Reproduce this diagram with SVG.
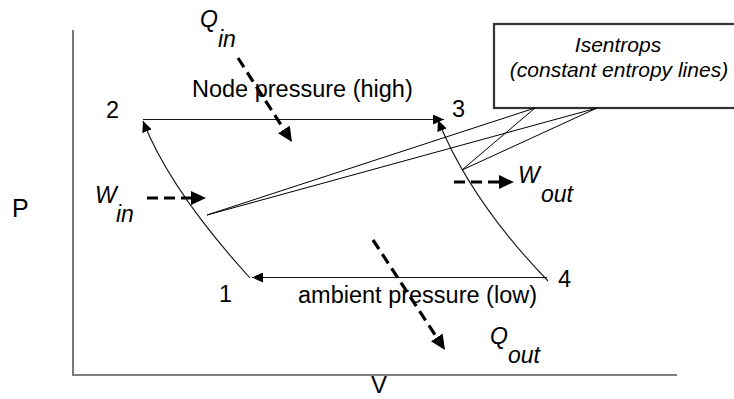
<svg xmlns="http://www.w3.org/2000/svg" width="734" height="399" viewBox="0 0 734 399">
<style>
text{font-family:"Liberation Sans",Arial,sans-serif;fill:#000}
.lbl{font-size:23.5px}
.ax{font-size:25px}
.it{font-style:italic;font-size:23px}
.note{font-style:italic;font-size:21px}
.thin{fill:none;stroke:#111;stroke-width:1.1}
.dash{fill:none;stroke:#000;stroke-width:3.2;stroke-dasharray:11 6}
.axis{fill:none;stroke:#555;stroke-width:1.6}
.ptr{fill:none;stroke:#000;stroke-width:1}
</style>
<defs>
<marker id="thinHead" viewBox="0 0 11 10" refX="11" refY="5" markerWidth="11" markerHeight="10" markerUnits="userSpaceOnUse" orient="auto">
<path d="M0,0 L11,5 L0,10 z" fill="#000"/>
</marker>
<marker id="boldHead" viewBox="0 0 15 14" refX="0" refY="7" markerWidth="15" markerHeight="14" markerUnits="userSpaceOnUse" orient="auto">
<path d="M0,0 L15,7 L0,14 z" fill="#000"/>
</marker>
</defs>

<g id="axes">
<line class="axis" x1="73" y1="30" x2="73" y2="374"/>
<line class="axis" x1="72" y1="375" x2="677" y2="375" stroke-width="2" stroke="#777"/>
<text class="ax" x="12" y="217">P</text>
<text x="371" y="393" font-size="24">V</text>
</g>

<g id="callout">
<rect x="494" y="24" width="260" height="84" fill="#fff" stroke="#333" stroke-width="2.2"/>
<text class="note" x="618" y="52" text-anchor="middle">Isentrops</text>
<text class="note" x="619" y="77" text-anchor="middle">(constant entropy lines)</text>
</g>

<g id="node-2"><text class="lbl" x="106" y="118">2</text></g>
<g id="node-3"><text class="lbl" x="452" y="117">3</text></g>
<g id="node-1"><text class="lbl" x="219" y="302">1</text></g>
<g id="node-4"><text class="lbl" x="558" y="287">4</text></g>

<g id="label-high"><text class="lbl" x="192" y="97">Node pressure (high)</text></g>
<g id="label-low"><text class="lbl" x="298" y="303">ambient pressure (low)</text></g>

<g id="label-qin"><text class="it" x="200" y="27">Q</text><text class="it" x="218" y="47">in</text></g>
<g id="label-win"><text class="it" x="95" y="203">W</text><text class="it" x="116" y="222">in</text></g>
<g id="label-wout"><text class="it" x="518" y="183">W</text><text class="it" x="541" y="202">out</text></g>
<g id="label-qout"><text class="it" x="490" y="344">Q</text><text class="it" x="508" y="363">out</text></g>

<g id="connectors">
<line class="thin" x1="143" y1="119.5" x2="444" y2="119.5" marker-end="url(#thinHead)"/>
<line class="thin" x1="547" y1="277.5" x2="252" y2="277.5" marker-end="url(#thinHead)"/>
<path class="thin" d="M250,278 Q170,190 143,121" marker-end="url(#thinHead)"/>
<path class="thin" d="M548,281 Q470,200 438,120" marker-end="url(#thinHead)"/>
<line class="ptr" x1="535" y1="108" x2="207" y2="215"/>
<line class="ptr" x1="597" y1="108" x2="207" y2="215"/>
<line class="ptr" x1="535" y1="108" x2="462" y2="170"/>
<line class="ptr" x1="597" y1="108" x2="462" y2="170"/>
<line class="dash" x1="238" y1="58" x2="283.9" y2="129.4" marker-end="url(#boldHead)"/>
<line class="dash" x1="147" y1="198" x2="191" y2="198" marker-end="url(#boldHead)"/>
<line class="dash" x1="454" y1="182" x2="499" y2="182" marker-end="url(#boldHead)"/>
<line class="dash" x1="373" y1="240" x2="436.8" y2="337.4" marker-end="url(#boldHead)"/>
</g>
</svg>
